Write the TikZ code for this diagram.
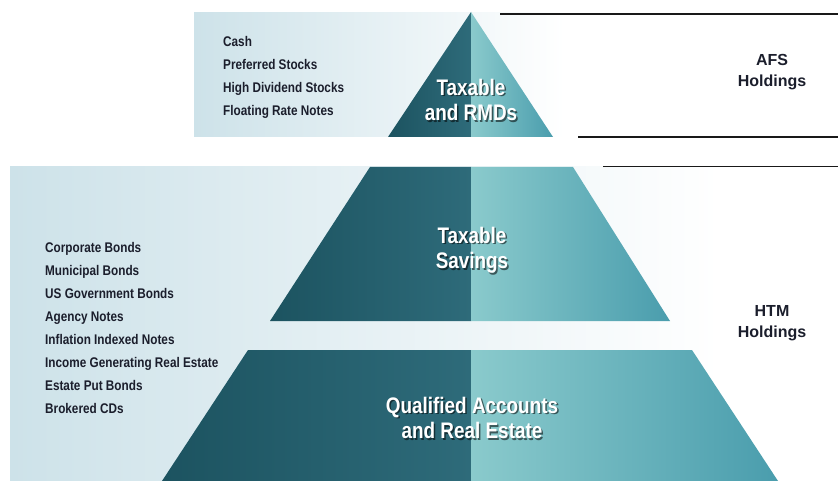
\documentclass[tikz,border=0pt]{standalone}
\usepackage{fontspec}
\setmainfont{Liberation Sans}[FakeStretch=0.84]
\newfontfamily\sidefont{Liberation Sans}
\definecolor{darkL}{HTML}{1C5360}
\definecolor{darkR}{HTML}{2E6B7A}
\definecolor{lightL}{HTML}{8ACACC}
\definecolor{lightR}{HTML}{4A9DAD}
\definecolor{bgL}{HTML}{CDE2E9}
\definecolor{txt}{HTML}{1B1E2C}
\tikzset{
  item/.style={anchor=base west,inner sep=0pt,text=txt,font=\bfseries\fontsize{14}{16}\selectfont},
  tierlabel/.style={align=center,inner sep=0pt,text=white,font=\bfseries\fontsize{22.5}{25.5}\selectfont},
  tiershadow/.style={tierlabel,text=black,opacity=0.55},
  sidelabel/.style={align=center,inner sep=0pt,text=txt,font=\sidefont\bfseries\fontsize{16}{21}\selectfont},
  rule/.style={draw=black!90,line width=1.4pt}
}
\begin{document}
\begin{tikzpicture}[x=1pt,y=-1pt]
\useasboundingbox (0,0) rectangle (838,481);
\fill[white] (0,0) rectangle (838,481);
% background panels
\shade[left color=bgL,right color=white] (194,13) rectangle (565,137);
\shade[left color=bgL,right color=white] (10,167) rectangle (720,481);
% top triangle
\shade[left color=darkL,right color=darkR] (388,137) -- (471,12) -- (471,137) -- cycle;
\shade[left color=lightL,right color=lightR] (471,12) -- (553,137) -- (471,137) -- cycle;
% middle trapezoid
\shade[left color=darkL,right color=darkR] (370,167) -- (471,167) -- (471,321) -- (270,321) -- cycle;
\shade[left color=lightL,right color=lightR] (471,167) -- (573,167) -- (670,321) -- (471,321) -- cycle;
% bottom trapezoid
\shade[left color=darkL,right color=darkR] (248,350) -- (471,350) -- (471,481) -- (162,481) -- cycle;
\shade[left color=lightL,right color=lightR] (471,350) -- (692,350) -- (778,481) -- (471,481) -- cycle;
% rules
\coordinate (r1a) at (500,14);  \coordinate (r1b) at (838,14);
\coordinate (r2a) at (578,137); \coordinate (r2b) at (838,137);
\coordinate (r3a) at (603,167); \coordinate (r3b) at (838,167);
\draw[rule] (r1a) -- (r1b);
\draw[rule] (r2a) -- (r2b);
\draw[rule,line width=1pt] (r3a) -- (r3b);
% top list
\foreach \t [count=\i] in {Cash,Preferred Stocks,High Dividend Stocks,Floating Rate Notes}
  \node[item] (a\i) at (223,{47+22.7*(\i-1)}) {\t};
% bottom list
\foreach \t [count=\i] in {Corporate Bonds,Municipal Bonds,US Government Bonds,Agency Notes,Inflation Indexed Notes,Income Generating Real Estate,Estate Put Bonds,Brokered CDs}
  \node[item] (b\i) at (45,{252+23*(\i-1)}) {\t};
% tier labels
\node[tiershadow] (t1s) at (472.5,101.5) {Taxable\\and RMDs};
\node[tierlabel] (t1) at (471,100) {Taxable\\and RMDs};
\node[tiershadow] (t2s) at (473.5,251.5) {Taxable\\Savings};
\node[tierlabel] (t2) at (472,250) {Taxable\\Savings};
\node[tiershadow] (t3s) at (473.5,419.5) {Qualified Accounts\\and Real Estate};
\node[tierlabel] (t3) at (472,418) {Qualified Accounts\\and Real Estate};
% side labels
\node[sidelabel] (afs) at (772,72) {AFS\\Holdings};
\node[sidelabel] (htm) at (772,323) {HTM\\Holdings};
\end{tikzpicture}
\end{document}
